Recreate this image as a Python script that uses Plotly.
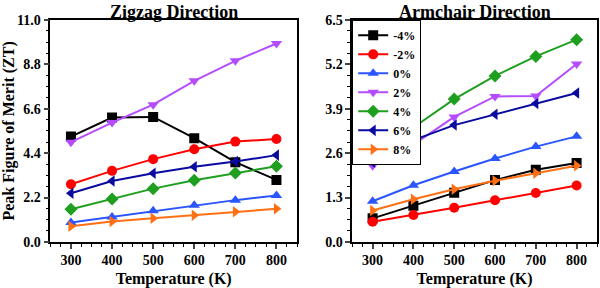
import plotly.graph_objects as go

temps = [300, 400, 500, 600, 700, 800]
labels = ["-4%", "-2%", "0%", "2%", "4%", "6%", "8%"]
colors = ["#000000", "#ff0000", "#2a55ff", "#b54cff", "#1f9f1f", "#0a0aa0", "#ff7015"]
symbols = ["square", "circle", "triangle-up", "triangle-down", "diamond", "triangle-left", "triangle-right"]

zigzag = [
    [5.22, 6.16, 6.19, 5.14, 3.95, 3.07],
    [2.86, 3.52, 4.10, 4.59, 4.97, 5.10],
    [0.96, 1.24, 1.54, 1.82, 2.07, 2.30],
    [4.94, 5.91, 6.80, 7.98, 8.97, 9.83],
    [1.62, 2.13, 2.64, 3.06, 3.42, 3.75],
    [2.41, 3.02, 3.40, 3.72, 3.98, 4.30],
    [0.78, 1.01, 1.17, 1.32, 1.49, 1.64],
]
armchair = [
    [0.69, 1.06, 1.44, 1.81, 2.11, 2.31],
    [0.59, 0.79, 1.00, 1.22, 1.43, 1.65],
    [1.19, 1.66, 2.06, 2.44, 2.79, 3.09],
    [2.23, 2.85, 3.66, 4.26, 4.27, 5.21],
    [2.40, 3.35, 4.18, 4.86, 5.43, 5.92],
    [2.33, 2.98, 3.42, 3.74, 4.05, 4.36],
    [0.92, 1.25, 1.54, 1.79, 2.01, 2.23],
]

font = "Liberation Serif, Times New Roman, serif"
fig = go.Figure()
for i, lab in enumerate(labels):
    fig.add_trace(go.Scatter(x=temps, y=zigzag[i], mode="lines+markers", name=lab,
                             line=dict(color=colors[i], width=2),
                             marker=dict(symbol=symbols[i], size=10, color=colors[i]),
                             xaxis="x", yaxis="y", showlegend=False))
for i, lab in enumerate(labels):
    fig.add_trace(go.Scatter(x=temps, y=armchair[i], mode="lines+markers", name=lab,
                             line=dict(color=colors[i], width=2),
                             marker=dict(symbol=symbols[i], size=10, color=colors[i]),
                             xaxis="x2", yaxis="y2", showlegend=True))

axfont = dict(family=font, size=14, color="black", weight="bold")
titlefont = dict(family=font, size=16, color="black", weight="bold")
xcommon = dict(range=[250, 850], tickvals=temps, ticks="outside", ticklen=5, tickwidth=1.5,
               showline=True, linecolor="black", linewidth=1.5, mirror=True,
               showgrid=False, zeroline=False, tickfont=axfont, automargin=False,
               minor=dict(dtick=25, tick0=0, ticks="outside", ticklen=3, tickwidth=1, tickcolor="black"),
               title=dict(text="Temperature (K)", font=titlefont, standoff=6))
ycommon = dict(ticks="outside", ticklen=5, tickwidth=1.5, showline=True, linecolor="black",
               linewidth=1.5, mirror=True, showgrid=False, zeroline=False, tickfont=axfont,
               tickformat=".1f", automargin=False)

fig.update_layout(
    width=600, height=288, margin=dict(l=0, r=0, t=0, b=0, autoexpand=False),
    paper_bgcolor="white", plot_bgcolor="white",
    font=dict(family=font, color="black"),
    xaxis=dict(domain=[0.084, 0.495], anchor="y", **xcommon),
    yaxis=dict(domain=[0.16, 0.931], anchor="x", range=[0, 11], dtick=2.2, tick0=0,
               minor=dict(dtick=0.55, tick0=0, ticks="outside", ticklen=3, tickwidth=1, tickcolor="black"),
               title=dict(text="Peak Figure of Merit (ZT)", font=titlefont, standoff=4),
               **ycommon),
    xaxis2=dict(domain=[0.587, 0.995], anchor="y2", **xcommon),
    yaxis2=dict(domain=[0.16, 0.931], anchor="x2", range=[0, 6.5], dtick=1.3, tick0=0,
                minor=dict(dtick=0.325, tick0=0, ticks="outside", ticklen=3, tickwidth=1, tickcolor="black"),
                **ycommon),
    legend=dict(x=0.587, y=0.931, xanchor="left", yanchor="top", bgcolor="white",
                bordercolor="black", borderwidth=1,
                font=dict(family=font, size=12, color="black", weight="bold"),
                tracegroupgap=0, itemwidth=30),
    annotations=[
        dict(text="Zigzag Direction", x=0.29, y=1.0, xref="paper", yref="paper",
             xanchor="center", yanchor="top", showarrow=False,
             font=dict(family=font, size=18, color="black", weight="bold")),
        dict(text="Armchair Direction", x=0.791, y=1.0, xref="paper", yref="paper",
             xanchor="center", yanchor="top", showarrow=False,
             font=dict(family=font, size=18, color="black", weight="bold")),
    ],
)

fig.write_html("out.html", config={"displayModeBar": False},
               post_script="document.body.style.margin='0';document.body.style.overflow='hidden';")
